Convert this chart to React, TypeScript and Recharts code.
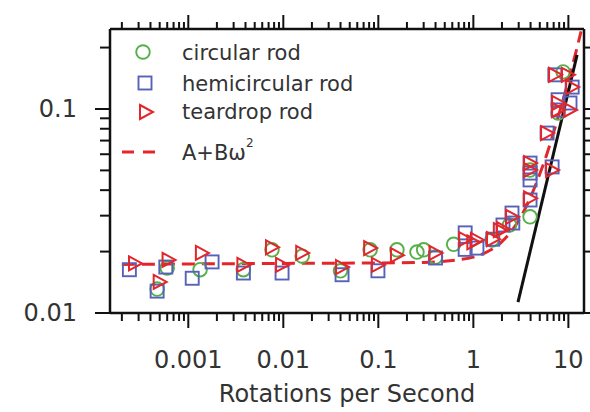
import React from "react";
import { ComposedChart, Scatter, Line, XAxis, YAxis, ReferenceLine } from "recharts";

// ---- data ----
const circularRod: [number, number][] = [
  [0.0006, 0.0166], [0.00047, 0.0131], [0.00133, 0.0163], [0.0038, 0.0163],
  [0.0076, 0.0204], [0.0158, 0.019], [0.04, 0.0161], [0.082, 0.0204],
  [0.157, 0.0204], [0.255, 0.0199], [0.3, 0.0204], [0.4, 0.0188], [0.62, 0.0217],
  [1.57, 0.0228], [2.4, 0.027], [3.95, 0.0296], [3.95, 0.0502],
  [7.79, 0.0955], [8.8, 0.152],
];
const hemicircularRod: [number, number][] = [
  [0.00024, 0.0163], [0.00047, 0.0128], [0.00058, 0.0168], [0.0011, 0.0148],
  [0.00178, 0.0178], [0.0038, 0.0157], [0.0097, 0.0157], [0.0415, 0.0154],
  [0.099, 0.0161], [0.4, 0.0186], [0.82, 0.0247], [0.82, 0.0205],
  [1.09, 0.0208], [1.6, 0.023], [2.05, 0.027], [2.6, 0.0276], [2.55, 0.0309],
  [3.95, 0.0358], [3.95, 0.0543], [3.95, 0.0485], [3.95, 0.0449],
  [6.74, 0.052], [5.97, 0.0762], [7.79, 0.111], [7.79, 0.0989],
  [10.4, 0.107], [10.96, 0.128], [7.2, 0.147],
];
const teardropRod: [number, number][] = [
  [0.000275, 0.0175], [0.0005, 0.0142], [0.00062, 0.0182], [0.00139, 0.0197],
  [0.0038, 0.0172], [0.0076, 0.021], [0.0097, 0.0172], [0.0158, 0.0197],
  [0.0415, 0.0168], [0.082, 0.0208], [0.099, 0.0172], [0.157, 0.0192],
  [0.4, 0.0197], [0.82, 0.023], [1.0, 0.0222], [1.09, 0.0228], [1.61, 0.023],
  [1.9, 0.0255], [2.05, 0.0258], [2.55, 0.0296], [3.95, 0.0365],
  [3.95, 0.0543], [3.95, 0.0502], [6.74, 0.0502], [5.97, 0.0762],
  [7.79, 0.107], [7.79, 0.0989], [10.4, 0.0989], [10.96, 0.128],
  [7.24, 0.147], [9.9, 0.147],
];
const fitCurve: [number, number][] = [
  [0.0002, 0.0173], [0.001, 0.0174], [0.01, 0.0175], [0.1, 0.0176], [0.3, 0.0177],
  [0.6, 0.0181], [1, 0.0188], [1.5, 0.0203], [2, 0.0224], [3, 0.0284],
  [4, 0.037], [5, 0.048], [6, 0.061], [7, 0.077], [8, 0.095], [9, 0.115],
  [10, 0.138], [11, 0.163], [12, 0.19], [13.6, 0.24],
];
const powerLaw: [number, number][] = [[2.95, 0.0113], [12.35, 0.184]];

const xMajorTicks = [0.001, 0.01, 0.1, 1, 10];
const xTickLabels = ["0.001", "0.01", "0.1", "1", "10"];
const xMinorTicks = [
  0.0002, 0.0003, 0.0004, 0.0005, 0.0006, 0.0007, 0.0008, 0.0009,
  0.002, 0.003, 0.004, 0.005, 0.006, 0.007, 0.008, 0.009,
  0.02, 0.03, 0.04, 0.05, 0.06, 0.07, 0.08, 0.09,
  0.2, 0.3, 0.4, 0.5, 0.6, 0.7, 0.8, 0.9,
  2, 3, 4, 5, 6, 7, 8, 9,
];
const yMajorTicks = [0.01, 0.1];
const yTickLabels = ["0.01", "0.1"];
const yMinorTicks = [0.02, 0.03, 0.04, 0.05, 0.06, 0.07, 0.08, 0.09, 0.2];

const xDomain: [number, number] = [0.00015, 14.6];
const yDomain: [number, number] = [0.01, 0.2466];

const seriesNames = ["circular rod", "hemicircular rod", "teardrop rod", "A+Bω"];

// ---- styles ----
const GREEN = "#55b04a";
const BLUE = "#5662b8";
const RED = "#e3262b";
const TEXT = "#333";
const FONT = "DejaVu Sans, Verdana, sans-serif";
const PLOT_H = 284;
const PLOT_W = 474;

const toPts = (a: [number, number][]) => a.map(([x, y]) => ({ x, y }));

const CircleShape = (p: any) => (
  <circle cx={p.cx} cy={p.cy} r={6.8} fill="none" stroke={GREEN} strokeWidth={1.9} />
);
const SquareShape = (p: any) => (
  <rect x={p.cx - 6.5} y={p.cy - 6.5} width={13} height={13} fill="none" stroke={BLUE} strokeWidth={1.9} />
);
const TriShape = (p: any) => (
  <polygon
    points={`${p.cx - 6},${p.cy - 7} ${p.cx + 7},${p.cy} ${p.cx - 6},${p.cy + 7}`}
    fill="none"
    stroke={RED}
    strokeWidth={2}
  />
);

const XTick = (props: any) => {
  const { x, y, payload } = props;
  const v = payload.value;
  const idx = xMajorTicks.findIndex((m) => Math.abs(m - v) / m < 1e-6);
  const major = idx >= 0;
  return (
    <g>
      <line x1={x} y1={y} x2={x} y2={y + (major ? 15 : 8)} stroke="#111" strokeWidth={2} />
      <line x1={x} y1={y - PLOT_H} x2={x} y2={y - PLOT_H - (major ? 14 : 7)} stroke="#111" strokeWidth={2} />
      {major && (
        <text x={x} y={y + 47} textAnchor="middle" dominantBaseline="central" fill={TEXT} fontSize={24} fontFamily={FONT}>
          {xTickLabels[idx]}
        </text>
      )}
    </g>
  );
};

const YTick = (props: any) => {
  const { x, y, payload } = props;
  const v = payload.value;
  const idx = yMajorTicks.findIndex((m) => Math.abs(m - v) / m < 1e-6);
  const major = idx >= 0;
  return (
    <g>
      <line x1={x} y1={y} x2={x - (major ? 15 : 10)} y2={y} stroke="#111" strokeWidth={2} />
      <line x1={x + PLOT_W} y1={y} x2={x + PLOT_W + (major ? 8 : 6)} y2={y} stroke="#111" strokeWidth={2} />
      {major && (
        <text x={x - 33} y={y} textAnchor="end" dominantBaseline="central" fill={TEXT} fontSize={24} fontFamily={FONT}>
          {yTickLabels[idx]}
        </text>
      )}
    </g>
  );
};

export default function App() {
  return (
    <div style={{ position: "absolute", left: 0, top: 0, width: 590, height: 412, background: "#fff" }}>
      <ComposedChart width={590} height={412} margin={{ top: 29, right: 6, bottom: 0, left: 0 }}>
        <XAxis
          dataKey="x"
          type="number"
          scale="log"
          domain={xDomain}
          allowDataOverflow
          ticks={[...xMajorTicks, ...xMinorTicks]}
          interval={0}
          tickSize={0}
          tickMargin={0}
          tickLine={false}
          tick={XTick}
          height={99}
          axisLine={{ stroke: "#111", strokeWidth: 2.5 }}
          label={{ value: "Rotations per Second", position: "insideBottom", offset: 0, dy: -10, fill: TEXT, fontSize: 24, fontFamily: FONT } as any}
        />
        <YAxis
          dataKey="y"
          type="number"
          scale="log"
          domain={yDomain}
          allowDataOverflow
          ticks={[...yMajorTicks, ...yMinorTicks]}
          interval={0}
          tickSize={0}
          tickMargin={0}
          tickLine={false}
          tick={YTick}
          width={110}
          axisLine={{ stroke: "#111", strokeWidth: 2.5 }}
        />
        <ReferenceLine y={yDomain[1]} stroke="#111" strokeWidth={2.5} />
        <ReferenceLine x={xDomain[1]} stroke="#111" strokeWidth={2.5} />
        <Scatter name={seriesNames[0]} data={toPts(circularRod)} shape={CircleShape} isAnimationActive={false} />
        <Scatter name={seriesNames[1]} data={toPts(hemicircularRod)} shape={SquareShape} isAnimationActive={false} />
        <Scatter name={seriesNames[2]} data={toPts(teardropRod)} shape={TriShape} isAnimationActive={false} />
        <Line
          name={seriesNames[3]}
          data={toPts(fitCurve)}
          dataKey="y"
          type="monotone"
          stroke={RED}
          strokeWidth={3}
          strokeDasharray="13 7"
          dot={false}
          activeDot={false}
          isAnimationActive={false}
        />
        <Line
          data={toPts(powerLaw)}
          dataKey="y"
          type="linear"
          stroke="#111"
          strokeWidth={3}
          dot={false}
          activeDot={false}
          isAnimationActive={false}
        />
      </ComposedChart>
      <svg width={590} height={412} style={{ position: "absolute", left: 0, top: 0, pointerEvents: "none" }}>
        <circle cx={143} cy={52} r={6.8} fill="none" stroke={GREEN} strokeWidth={1.9} />
        <rect x={138.5} y={76.5} width={13} height={13} fill="none" stroke={BLUE} strokeWidth={1.9} />
        <polygon points="140,105 153,112 140,119" fill="none" stroke={RED} strokeWidth={2} />
        <line x1={122} y1={152} x2={157} y2={152} stroke={RED} strokeWidth={3} strokeDasharray="12 9" />
        <g fill={TEXT} fontSize={21} fontFamily={FONT}>
          <text x={182} y={60}>{seriesNames[0]}</text>
          <text x={182} y={91}>{seriesNames[1]}</text>
          <text x={182} y={119}>{seriesNames[2]}</text>
          <text x={182} y={160}>
            {seriesNames[3]}
            <tspan fontSize={12} dy={-13}>2</tspan>
          </text>
        </g>
      </svg>
    </div>
  );
}
